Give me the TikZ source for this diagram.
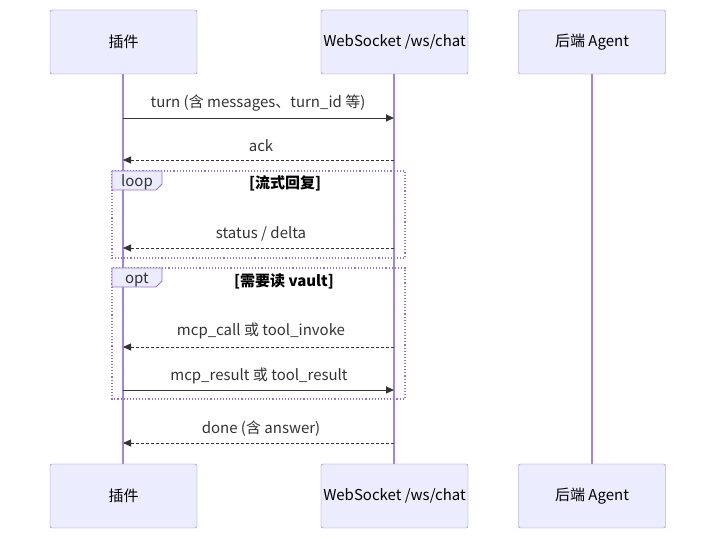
\documentclass[tikz,border=0pt]{standalone}
\usepackage{fontspec}
\setmainfont{Noto Sans CJK SC}
\usetikzlibrary{arrows.meta}
\definecolor{actfill}{HTML}{ECECFF}
\definecolor{actline}{HTML}{9370DB}
\definecolor{ink}{HTML}{333333}
\tikzset{
  actor/.style={draw=actline, fill=actfill, minimum width=147pt, minimum height=64pt, rounded corners=2pt, font=\fontsize{15}{17}\selectfont, inner sep=0pt},
  life/.style={draw=actline!85, line width=1.3pt},
  msg/.style={draw=ink, line width=0.9pt, -{Triangle[length=8pt,width=7pt]}},
  dmsg/.style={msg, dash pattern=on 3pt off 2pt},
  lbl/.style={font=\fontsize{15}{17}\selectfont, text=ink},
  blbl/.style={font=\fontsize{15}{17}\selectfont\bfseries, text=black},
  frame/.style={draw=actline, dotted, line width=1.1pt},
}
\begin{document}
\begin{tikzpicture}[x=1pt,y=-1pt]
\useasboundingbox (0,0) rectangle (724,545);
% lifelines
\coordinate (p1) at (123,74); \coordinate (p2) at (123,464);
\coordinate (w1) at (394,74); \coordinate (w2) at (394,464);
\coordinate (g1) at (592,74); \coordinate (g2) at (592,464);
\draw[life] (p1) -- (p2);
\draw[life] (w1) -- (w2);
\draw[life] (g1) -- (g2);
% actors
\node[actor] (pt) at (123.5,42) {插件};
\node[actor] (wt) at (394.5,42) {WebSocket /ws/chat};
\node[actor] (gt) at (592,42) {后端 Agent};
\node[actor] (pb) at (123.5,496) {插件};
\node[actor] (wb) at (394.5,496) {WebSocket /ws/chat};
\node[actor] (gb) at (592,496) {后端 Agent};
% frames
\draw[frame] (112,171) rectangle (405,258);
\draw[draw=actline, fill=actfill, line width=0.8pt] (112,171) -- (162,171) -- (162,184) -- (156,190) -- (112,190) -- cycle;
\node[lbl] (loopl) at (137,182) {loop};
\node[blbl] (loopc) at (285,183) {[流式回复]};
\draw[frame] (112,268) rectangle (405,399);
\draw[draw=actline, fill=actfill, line width=0.8pt] (112,268) -- (162,268) -- (162,281) -- (156,287) -- (112,287) -- cycle;
\node[lbl] (optl) at (137,280) {opt};
\node[blbl] (optc) at (284,281) {[需要读 vault]};
% messages
\coordinate (a1) at (123,118); \coordinate (b1) at (394,118);
\draw[msg] (a1) -- (b1);
\node[lbl] (t1) at (258,103) {turn (含 messages、turn\_id 等)};
\coordinate (a2) at (123,160); \coordinate (b2) at (394,160);
\draw[dmsg] (b2) -- (a2);
\node[lbl] (t2) at (261,146) {ack};
\coordinate (a3) at (123,248); \coordinate (b3) at (394,248);
\draw[dmsg] (b3) -- (a3);
\node[lbl] (t3) at (261,234) {status / delta};
\coordinate (a4) at (123,347); \coordinate (b4) at (394,347);
\draw[dmsg] (b4) -- (a4);
\node[lbl] (t4) at (261,331) {mcp\_call 或 tool\_invoke};
\coordinate (a5) at (123,390); \coordinate (b5) at (394,390);
\draw[msg] (a5) -- (b5);
\node[lbl] (t5) at (259,376) {mcp\_result 或 tool\_result};
\coordinate (a6) at (123,443); \coordinate (b6) at (394,443);
\draw[dmsg] (b6) -- (a6);
\node[lbl] (t6) at (261,429) {done (含 answer)};
\end{tikzpicture}
\end{document}
